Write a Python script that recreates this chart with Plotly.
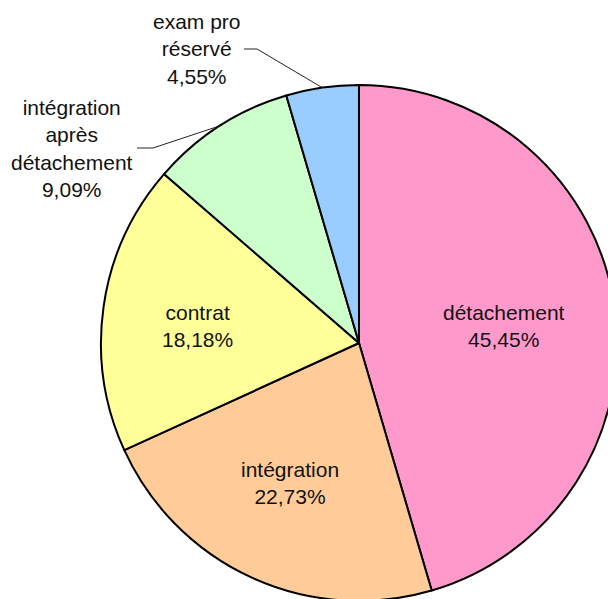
import math
import plotly.graph_objects as go

# slices, clockwise from 12 o'clock
labels = ["détachement", "intégration", "contrat", "intégration après détachement", "exam pro réservé"]
values = [10, 5, 4, 2, 1]
colors = ["#FF99CC", "#FFCC99", "#FFFF99", "#CCFFCC", "#99CCFF"]
# how each label is written (line breaks)
label_lines = [
    "détachement",
    "intégration",
    "contrat",
    "intégration<br>après<br>détachement",
    "exam pro<br>réservé",
]

W, H = 620, 604          # a bit larger than the window: the pie runs off the right/bottom edge
CX, CY, R = 359, 343, 258
FONT = dict(family="Liberation Sans, Arial", size=21, color="#111111")


def px(x):
    return x / W


def py(y):
    return 1 - y / H


total = sum(values)

fig = go.Figure()
fig.add_trace(go.Pie(
    labels=labels,
    values=values,
    sort=False,
    direction="clockwise",
    rotation=0,
    marker=dict(colors=colors, line=dict(color="black", width=2)),
    textinfo="none",
    domain=dict(x=[px(CX - R), px(CX + R)], y=[py(CY + R), py(CY - R)]),
    hoverinfo="label+percent",
))

# label block centres (x, y); outside ones also get a leader line start and elbow x
label_pos = {
    0: (504, 326),
    1: (290, 483),
    2: (197, 326),
    3: (72, 148, 137, 153),
    4: (197, 49, 244, 257),
}

cum = 0
shapes = []
annotations = []
for i, v in enumerate(values):
    mid = (cum + v / 2) / total * 2 * math.pi
    cum += v
    pct = f"{v / total * 100:.2f}%".replace(".", ",")
    pos = label_pos[i]
    tx, ty = pos[0], pos[1]
    annotations.append(dict(
        x=px(tx), y=py(ty), xref="paper", yref="paper",
        text=label_lines[i] + "<br>" + pct, showarrow=False,
        xanchor="center", yanchor="middle", align="center",
        font=FONT,
    ))
    if len(pos) == 4:
        x0, x1 = pos[2], pos[3]
        ex = CX + R * math.sin(mid)
        ey = CY - R * math.cos(mid)
        shapes.append(dict(
            type="path", xref="paper", yref="paper",
            path=f"M {px(x0)} {py(ty)} L {px(x1)} {py(ty)} L {px(ex)} {py(ey)}",
            line=dict(color="#222222", width=1),
        ))

fig.update_layout(
    width=W, height=H,
    margin=dict(l=0, r=0, t=0, b=0),
    paper_bgcolor="white",
    showlegend=False,
    annotations=annotations,
    shapes=shapes,
)

fig.write_html(
    "out.html",
    config={"displayModeBar": False},
    post_script="document.body.style.margin='0';document.body.style.overflow='hidden';",
)
